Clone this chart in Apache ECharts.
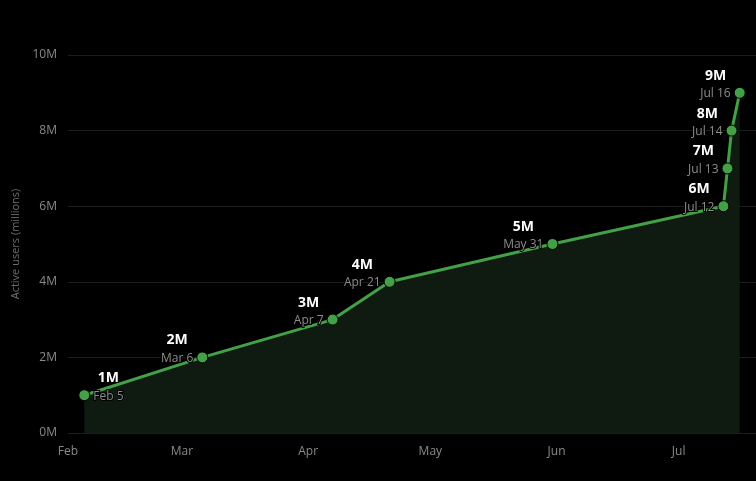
<!DOCTYPE html>
<html>
<head>
<meta charset="utf-8">
<script src="https://cdn.jsdelivr.net/npm/echarts@6/dist/echarts.min.js"></script>
<style>
  html, body { margin: 0; padding: 0; background: #000; }
  #main { width: 756px; height: 481px; }
</style>
</head>
<body>
<div id="main"></div>
<script>
"use strict";
// milestone dates and active users (millions)
var dates = ['2023-02-05', '2023-03-06', '2023-04-07', '2023-04-21', '2023-05-31',
             '2023-07-12', '2023-07-13', '2023-07-14', '2023-07-16'];
var users = [1, 2, 3, 4, 5, 6, 7, 8, 9];
var dateLabels = ['Feb 5', 'Mar 6', 'Apr 7', 'Apr 21', 'May 31',
                  'Jul 12', 'Jul 13', 'Jul 14', 'Jul 16'];
var monthNames = ['Jan', 'Feb', 'Mar', 'Apr', 'May', 'Jun', 'Jul', 'Aug'];

var DAY = 24 * 3600 * 1000;
var font = '"Segoe UI", "Open Sans", "Noto Sans", sans-serif';

var seriesData = [];
for (var i = 0; i < dates.length; i++) {
    seriesData.push({
        value: [dates[i], users[i]],
        label: {
            position: i === 0 ? 'right' : 'left',
            distance: 3,
            offset: [0, -9]
        }
    });
}

var option = {
    backgroundColor: '#000',
    animation: false,
    textStyle: { fontFamily: font },
    grid: { left: 68, right: 0, top: 55, bottom: 48 },
    xAxis: {
        type: 'time',
        min: '2023-02-01',
        max: '2023-07-20',
        minInterval: 28 * DAY,
        maxInterval: 31 * DAY,
        axisLine: { show: false },
        axisTick: { show: false },
        splitLine: { show: false },
        axisLabel: {
            color: '#8a8a8a',
            fontSize: 12,
            margin: 13,
            fontFamily: font,
            formatter: function (v) {
                return monthNames[new Date(v).getMonth()];
            }
        }
    },
    yAxis: {
        type: 'value',
        min: 0,
        max: 10,
        interval: 2,
        name: 'Active users (millions)',
        nameLocation: 'middle',
        nameRotate: 90,
        nameGap: 47,
        nameTextStyle: { color: '#6e6e6e', fontSize: 11, fontFamily: font },
        axisLine: { show: false },
        axisTick: { show: false },
        axisLabel: {
            color: '#8a8a8a',
            fontSize: 12,
            margin: 11,
            fontFamily: font,
            formatter: '{value}M'
        },
        splitLine: { lineStyle: { color: '#1c1c1c', width: 1 } }
    },
    series: [{
        type: 'line',
        data: seriesData,
        symbol: 'circle',
        symbolSize: 11,
        lineStyle: { color: '#43a047', width: 3 },
        itemStyle: { color: '#43a047', borderColor: '#000', borderWidth: 1 },
        areaStyle: { color: '#0f1b11', opacity: 1 },
        label: {
            show: true,
            formatter: function (p) {
                return '{a|' + users[p.dataIndex] + 'M}\n{b|' + dateLabels[p.dataIndex] + '}';
            },
            rich: {
                a: { color: '#fff', fontSize: 14, fontWeight: 'bold', align: 'center',
                     fontFamily: font, lineHeight: 20 },
                b: { color: '#8c8c8c', fontSize: 12, align: 'center', fontFamily: font,
                     lineHeight: 16, textBorderColor: '#000', textBorderWidth: 2 }
            }
        }
    }]
};

var myChart = echarts.init(document.getElementById('main'));
myChart.setOption(option);
</script>
</body>
</html>
